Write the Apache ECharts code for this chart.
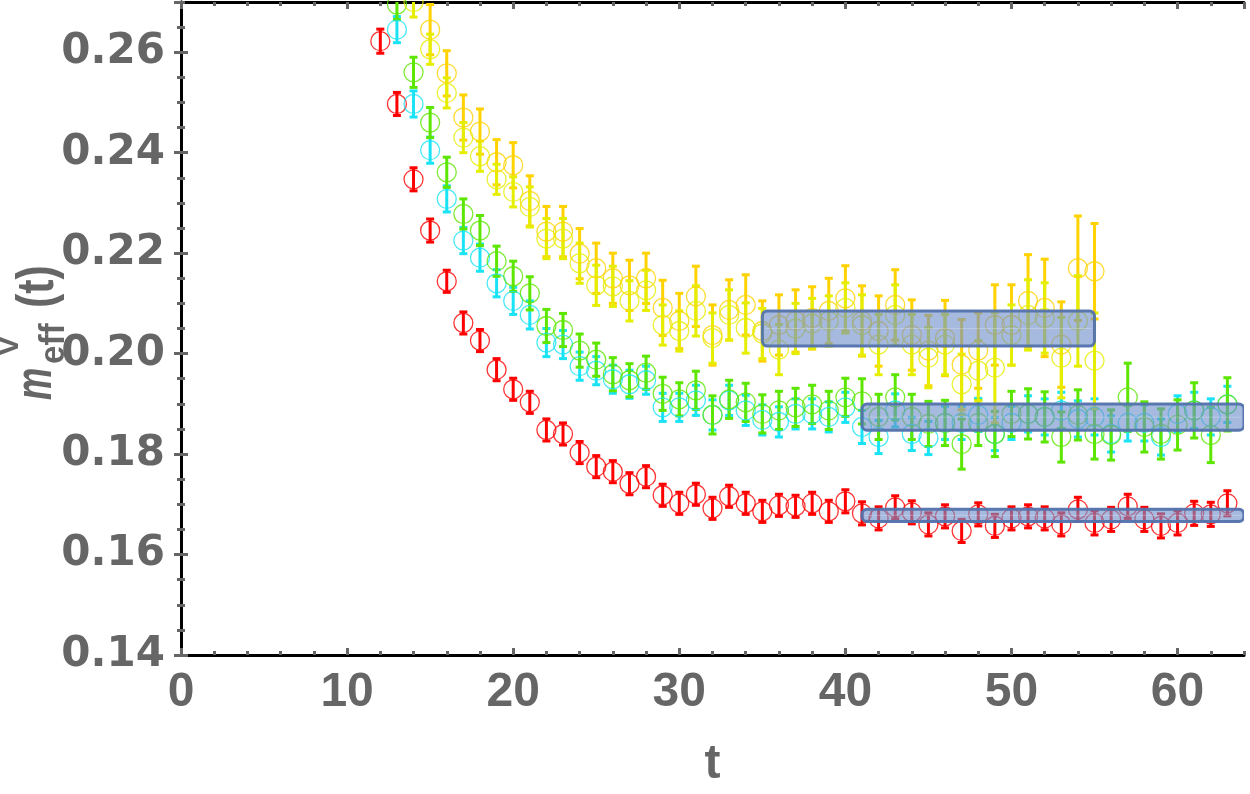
<!DOCTYPE html>
<html>
<head>
<meta charset="utf-8">
<script src="https://cdn.jsdelivr.net/npm/echarts@6/dist/echarts.min.js"></script>
<style>
  html, body { margin: 0; padding: 0; background: #fff; }
  #chart { width: 1250px; height: 794px; }
</style>
</head>
<body>
<div id="chart"></div>
<script>
// effective mass data (first t of each series given separately)
const redStart = 12
const red = [0.2622, 0.2497, 0.2347, 0.2245, 0.2144, 0.2061, 0.2026, 0.1968, 0.1929, 0.1903,
  0.1848, 0.1840, 0.1803, 0.1775, 0.1765, 0.1741, 0.1755, 0.1718, 0.1702, 0.1720,
  0.1692, 0.1716, 0.1702, 0.1686, 0.1698, 0.1696, 0.1702, 0.1686, 0.1706, 0.1682,
  0.1672, 0.1694, 0.1684, 0.1660, 0.1676, 0.1647, 0.1680, 0.1657, 0.1672, 0.1676,
  0.1672, 0.1660, 0.1690, 0.1663, 0.1670, 0.1696, 0.1670, 0.1657, 0.1663, 0.1682,
  0.1680, 0.1702]
const redErr = [0.0024, 0.0023, 0.0023, 0.0023, 0.0022, 0.0022, 0.0022, 0.0022, 0.0022, 0.0022,
  0.0022, 0.0022, 0.0022, 0.0022, 0.0022, 0.0022, 0.0022, 0.0022, 0.0022, 0.0022,
  0.0022, 0.0022, 0.0022, 0.0022, 0.0022, 0.0022, 0.0022, 0.0022, 0.0023, 0.0023,
  0.0023, 0.0023, 0.0023, 0.0023, 0.0023, 0.0023, 0.0023, 0.0023, 0.0023, 0.0023,
  0.0023, 0.0023, 0.0024, 0.0024, 0.0024, 0.0024, 0.0024, 0.0024, 0.0024, 0.0024,
  0.0024, 0.0025]

const cyanStart = 13
const cyan = [0.2645, 0.2497, 0.2405, 0.2308, 0.2225, 0.2191, 0.2140, 0.2105, 0.2077, 0.2022,
  0.2018, 0.1975, 0.1966, 0.1949, 0.1939, 0.1947, 0.1893, 0.1893, 0.1907, 0.1878,
  0.1907, 0.1887, 0.1868, 0.1864, 0.1880, 0.1880, 0.1874, 0.1893, 0.1854, 0.1834,
  0.1887, 0.1840, 0.1832, 0.1862, 0.1862, 0.1878, 0.1840, 0.1862, 0.1880, 0.1874,
  0.1887, 0.1870, 0.1874, 0.1840, 0.1862, 0.1862, 0.1834, 0.1880, 0.1887, 0.1874,
  0.1899]
const cyanErr = [0.0026, 0.0026, 0.0026, 0.0026, 0.0026, 0.0027, 0.0027, 0.0027, 0.0028, 0.0028,
  0.0028, 0.0028, 0.0028, 0.0028, 0.0028, 0.0028, 0.0028, 0.0028, 0.0030, 0.0030,
  0.0030, 0.0030, 0.0030, 0.0030, 0.0030, 0.0030, 0.0030, 0.0030, 0.0033, 0.0033,
  0.0033, 0.0033, 0.0033, 0.0033, 0.0033, 0.0033, 0.0033, 0.0033, 0.0036, 0.0036,
  0.0036, 0.0036, 0.0036, 0.0036, 0.0036, 0.0036, 0.0036, 0.0036, 0.0036, 0.0036,
  0.0036]

const greenStart = 13
const green = [0.2695, 0.2560, 0.2460, 0.2361, 0.2278, 0.2245, 0.2184, 0.2154, 0.2120, 0.2055,
  0.2047, 0.2006, 0.1988, 0.1959, 0.1947, 0.1962, 0.1920, 0.1909, 0.1927, 0.1878,
  0.1909, 0.1903, 0.1880, 0.1887, 0.1893, 0.1899, 0.1887, 0.1913, 0.1905, 0.1874,
  0.1913, 0.1874, 0.1860, 0.1862, 0.1820, 0.1862, 0.1840, 0.1880, 0.1880, 0.1874,
  0.1834, 0.1878, 0.1840, 0.1838, 0.1913, 0.1854, 0.1840, 0.1858, 0.1887, 0.1838,
  0.1899]
const greenErr = [0.0030, 0.0030, 0.0030, 0.0030, 0.0030, 0.0030, 0.0030, 0.0030, 0.0033, 0.0033,
  0.0033, 0.0033, 0.0033, 0.0033, 0.0033, 0.0033, 0.0033, 0.0033, 0.0038, 0.0038,
  0.0038, 0.0038, 0.0038, 0.0038, 0.0038, 0.0038, 0.0038, 0.0038, 0.0045, 0.0045,
  0.0045, 0.0045, 0.0045, 0.0045, 0.0050, 0.0045, 0.0045, 0.0045, 0.0050, 0.0050,
  0.0050, 0.0050, 0.0050, 0.0050, 0.0068, 0.0050, 0.0050, 0.0050, 0.0055, 0.0055,
  0.0053]

const goldStart = 15
const gold = [0.2645, 0.2558, 0.2470, 0.2442, 0.2381, 0.2375, 0.2304, 0.2243, 0.2243, 0.2199,
  0.2170, 0.2150, 0.2136, 0.2150, 0.2091, 0.2065, 0.2114, 0.2037, 0.2087, 0.2097,
  0.2045, 0.2057, 0.2065, 0.2071, 0.2085, 0.2110, 0.2065, 0.2045, 0.2097, 0.2037,
  0.2006, 0.2031, 0.1978, 0.2006, 0.2057, 0.2057, 0.2105, 0.2091, 0.2018, 0.2170,
  0.2164]
const goldErr = [0.0050, 0.0045, 0.0045, 0.0045, 0.0045, 0.0045, 0.0050, 0.0050, 0.0050, 0.0050,
  0.0050, 0.0050, 0.0050, 0.0050, 0.0055, 0.0055, 0.0060, 0.0060, 0.0060, 0.0060,
  0.0060, 0.0060, 0.0062, 0.0062, 0.0065, 0.0065, 0.0070, 0.0070, 0.0070, 0.0070,
  0.0070, 0.0075, 0.0090, 0.0075, 0.0080, 0.0080, 0.0092, 0.0097, 0.0085, 0.0104,
  0.0095]

const yellowStart = 14
const yellow = [0.2700, 0.2606, 0.2519, 0.2430, 0.2393, 0.2347, 0.2322, 0.2292, 0.2229, 0.2229,
  0.2180, 0.2136, 0.2134, 0.2105, 0.2126, 0.2057, 0.2045, 0.2085, 0.2031, 0.2077,
  0.2051, 0.2040, 0.2008, 0.2050, 0.2060, 0.2065, 0.2091, 0.2057, 0.2018, 0.2077,
  0.2018, 0.1992, 0.2018, 0.1939, 0.1966, 0.1972, 0.2037, 0.2077, 0.2071, 0.1992,
  0.2065, 0.1986]
const yellowErr = [0.0030, 0.0030, 0.0030, 0.0030, 0.0030, 0.0030, 0.0030, 0.0040, 0.0040, 0.0040,
  0.0040, 0.0040, 0.0040, 0.0040, 0.0040, 0.0040, 0.0040, 0.0050, 0.0050, 0.0050,
  0.0050, 0.0050, 0.0050, 0.0050, 0.0050, 0.0050, 0.0050, 0.0060, 0.0060, 0.0060,
  0.0060, 0.0060, 0.0060, 0.0060, 0.0060, 0.0110, 0.0060, 0.0070, 0.0070, 0.0080,
  0.0090, 0.0095]

// plateau fits: [t from, t to, central value, half width]
const fitYellow = [35, 55, 0.2050, 0.0035]
const fitGreen = [41, 64, 0.18735, 0.0026]
const fitRed = [41, 64, 0.1678, 0.0012]

const sets = [
  { name: 'red', color: '#ff0000', start: redStart, vals: red, errs: redErr },
  { name: 'cyan', color: '#19e3f5', start: cyanStart, vals: cyan, errs: cyanErr },
  { name: 'green', color: '#5ce600', start: greenStart, vals: green, errs: greenErr },
  { name: 'gold', color: '#ffd200', start: goldStart, vals: gold, errs: goldErr },
  { name: 'yellow', color: '#e6ee00', start: yellowStart, vals: yellow, errs: yellowErr }
]

const gray = '#666666'
const font = '"Liberation Sans", Arial, sans-serif'

function errBar (params, api) {
  const x = api.value(0)
  const y = api.value(1)
  const e = api.value(2)
  const top = api.coord([x, y + e])
  const bot = api.coord([x, y - e])
  const col = api.visual('color')
  return {
    type: 'group',
    children: [
      { type: 'line', shape: { x1: top[0], y1: top[1], x2: bot[0], y2: bot[1] }, style: { stroke: col, lineWidth: 3 } },
      { type: 'rect', shape: { x: top[0] - 4, y: top[1] - 1.5, width: 8, height: 3 }, style: { fill: col } },
      { type: 'rect', shape: { x: bot[0] - 4, y: bot[1] - 1.5, width: 8, height: 3 }, style: { fill: col } }
    ]
  }
}

function band (params, api) {
  const t0 = api.value(0)
  const t1 = api.value(1)
  const c = api.value(2)
  const h = api.value(3)
  const p1 = api.coord([t0, c + h])
  const p2 = api.coord([t1, c - h])
  return {
    type: 'group',
    children: [
      {
        type: 'rect',
        shape: { x: p1[0], y: p1[1], width: p2[0] - p1[0], height: p2[1] - p1[1], r: 5 },
        style: { fill: 'rgba(112, 142, 202, 0.62)', stroke: 'rgba(82, 114, 172, 0.95)', lineWidth: 3 }
      },
      {
        type: 'line',
        shape: { x1: p1[0] + 3, y1: (p1[1] + p2[1]) / 2, x2: p2[0] - 3, y2: (p1[1] + p2[1]) / 2 },
        style: { stroke: 'rgba(255, 255, 255, 0.25)', lineWidth: 1 }
      }
    ]
  }
}

const series = []
sets.forEach(s => {
  const pts = s.vals.map((v, i) => [s.start + i, v])
  const bars = s.vals.map((v, i) => [s.start + i, v, s.errs[i]])
  series.push({
    name: s.name + '_err',
    type: 'custom',
    renderItem: errBar,
    clip: true,
    itemStyle: { color: s.color },
    data: bars,
    z: 2
  })
  series.push({
    name: s.name,
    type: 'scatter',
    symbol: 'circle',
    symbolSize: 19,
    clip: true,
    itemStyle: { color: 'rgba(255,255,255,0)', borderColor: s.color, borderWidth: 1.3 },
    data: pts,
    z: 2
  })
})
series.push({
  name: 'fits',
  type: 'custom',
  renderItem: band,
  clip: true,
  data: [fitYellow, fitGreen, fitRed],
  z: 5
})

const labelX = { fontSize: 48, fontWeight: 'bold', color: gray, fontFamily: font, margin: 14, showMaxLabel: false }
const labelY = {
  fontSize: 42, fontWeight: 'bold', color: gray, fontFamily: '"DejaVu Sans", sans-serif', margin: 16, showMaxLabel: false,
  formatter: v => v.toFixed(2)
}
const blackLine = { show: true, lineStyle: { color: '#000', width: 3 } }

function xAx (pos, major, withLabel) {
  return {
    type: 'value', position: pos, min: 0, max: 64,
    interval: major ? 10 : 2,
    axisLine: major ? blackLine : { show: false },
    axisTick: { show: true, inside: true, length: major ? 7 : 4, lineStyle: { color: gray, width: 3 } },
    axisLabel: withLabel ? labelX : { show: false },
    splitLine: { show: false },
    name: withLabel ? 't' : '',
    nameLocation: 'middle',
    nameGap: 86,
    nameTextStyle: { fontSize: 48, fontWeight: 'bold', color: gray, fontFamily: font }
  }
}
function yAx (pos, major, withLabel) {
  return {
    type: 'value', position: pos, min: 0.14, max: 0.27,
    interval: major ? 0.02 : 0.005,
    axisLine: major ? blackLine : { show: false },
    axisTick: { show: true, inside: true, length: major ? 7 : 4, lineStyle: { color: gray, width: 3 } },
    axisLabel: withLabel ? labelY : { show: false },
    splitLine: { show: false }
  }
}

function txt (text, x, y, size, italic, sx) {
  return {
    type: 'text',
    x: x,
    y: y,
    scaleX: sx || 1,
    style: {
      text: text,
      fontSize: size,
      fontWeight: 'bold',
      fontStyle: italic ? 'italic' : 'normal',
      fontFamily: font,
      fill: gray,
      verticalAlign: 'bottom'
    }
  }
}

const chart = echarts.init(document.getElementById('chart'), null, { renderer: 'canvas' })
chart.setOption({
  animation: false,
  backgroundColor: '#fff',
  grid: { left: 181, right: 6, top: 2, bottom: 134 },
  xAxis: [xAx('bottom', true, true), xAx('bottom', false, false), xAx('top', true, false), xAx('top', false, false)],
  yAxis: [yAx('left', true, true), yAx('left', false, false), yAx('right', true, false), yAx('right', false, false)],
  graphic: [{
    type: 'group',
    x: 52,
    y: 400,
    rotation: Math.PI / 2,
    children: [
      txt('m', 0, 11, 52, true, 0.7),
      txt('eff', 36, 20, 35, false, 0.95),
      txt('V', 44, -27, 30, false),
      txt('(t)', 92, 13, 52, false, 0.82)
    ]
  }],
  series: series
})
</script>
</body>
</html>
